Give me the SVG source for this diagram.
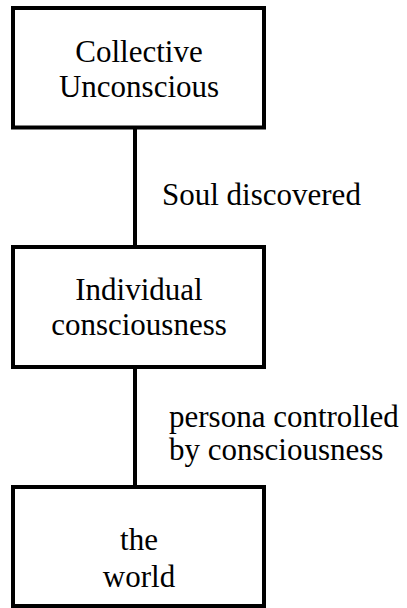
<svg xmlns="http://www.w3.org/2000/svg" width="407" height="608" viewBox="0 0 407 608">
<style>
.box{fill:#fff;stroke:#000;stroke-width:4}
.t{font-size:31px;fill:#000}
.c{text-anchor:middle}
.edge{stroke:#000;stroke-width:4;fill:none}
</style>
<rect width="407" height="608" fill="#fff"/>
<g font-family="'Liberation Serif', Tinos, 'DejaVu Serif', serif">
<g id="connectors">
<line class="edge" x1="135" y1="128" x2="135" y2="247"/>
<line class="edge" x1="135" y1="367" x2="135" y2="487"/>
<text class="t" x="162" y="205">Soul discovered</text>
<text class="t" x="169" y="427">persona controlled</text>
<text class="t" x="169" y="460">by consciousness</text>
</g>
<g id="node-collective">
<rect class="box" x="13" y="8" width="251" height="119.5"/>
<text class="t c" x="139" y="62">Collective</text>
<text class="t c" x="139" y="97">Unconscious</text>
</g>
<g id="node-individual">
<rect class="box" x="13" y="247" width="251" height="120"/>
<text class="t c" x="139" y="300">Individual</text>
<text class="t c" x="139" y="335">consciousness</text>
</g>
<g id="node-world">
<rect class="box" x="13" y="487" width="251" height="119"/>
<text class="t c" x="139" y="550">the</text>
<text class="t c" x="139" y="587">world</text>
</g>
</g>
</svg>
